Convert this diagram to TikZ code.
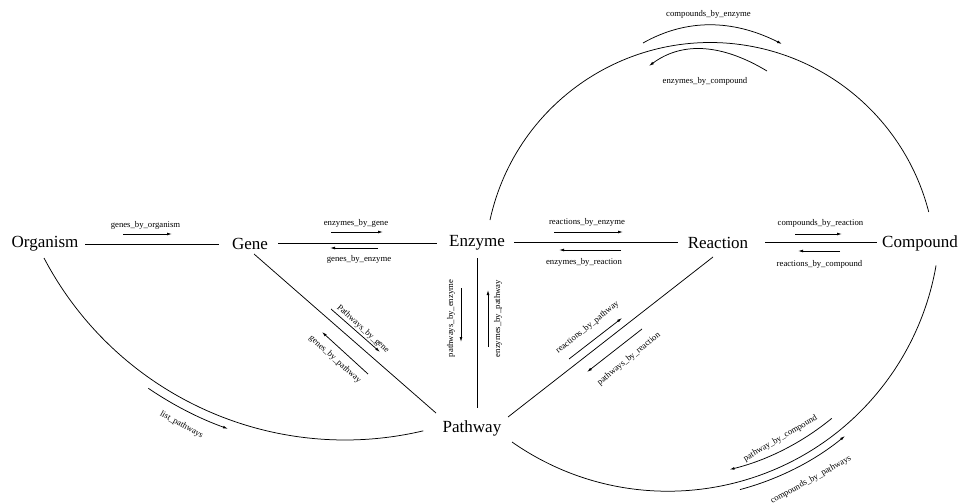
\documentclass[tikz,border=0pt]{standalone}
\usepackage{fontspec}
\setmainfont{Liberation Serif}
\usetikzlibrary{arrows.meta,calc}
\begin{document}
\begin{tikzpicture}[x=1pt,y=-1pt,
  ent/.style={inner sep=0pt, font=\fontsize{17}{20}\selectfont},
  lab/.style={inner sep=0pt, font=\fontsize{8.7}{10}\selectfont},
  link/.style={line width=0.75pt},
  dirarrow/.style={line width=0.75pt, -{Latex[length=5pt,width=2.8pt]}}]
\useasboundingbox (0,0) rectangle (960,503);

% entities
\node[ent] (org)   at (45,244)  {Organism};
\node[ent] (gene)  at (250,244) {Gene};
\node[ent] (enz)   at (477,243) {Enzyme};
\node[ent] (react) at (718,243) {Reaction};
\node[ent] (comp)  at (920,243) {Compound};
\node[ent] (path)  at (472,428) {Pathway};

% connectors
\draw[link] ($(org)+(40,0)$) -- ($(gene)+(-31,0)$);
\draw[link] ($(gene)+(28,-1)$) -- ($(enz)+(-40,0)$);
\draw[link] ($(enz)+(37,-1)$) -- ($(react)+(-40,-1)$);
\draw[link] ($(react)+(47,-1)$) -- ($(comp)+(-43,-1)$);
\draw[link] ($(gene)+(4,10)$) -- ($(path)+(-36,-15)$);
\draw[link] ($(enz)+(0,15)$) -- ($(path)+(5,-20)$);
\draw[link] ($(react)+(-5,14)$) -- ($(path)+(36,-11)$);
\draw[link] ($(org)+(-1,14)$) arc[start angle=152.3, end angle=76.7, radius=340];
\draw[link] ($(enz)+(13,-23)$) arc[start angle=-167.7, end angle=-14.4, radius=225.5];
\draw[link] ($(path)+(40,14)$) arc[start angle=125, end angle=9.8, radius=272];

% Organism - Gene
\draw[dirarrow] (123,234) -- (172,234);
\node[lab] (l1) at (145.5,225) {genes\_by\_organism};

% Gene - Enzyme
\draw[dirarrow] (331,232) -- (383,232);
\node[lab] (l2) at (356,223) {enzymes\_by\_gene};
\draw[dirarrow] (378,248) -- (330,248);
\node[lab] (l3) at (359,259) {genes\_by\_enzyme};

% Enzyme - Reaction
\draw[dirarrow] (554,232) -- (623,232);
\node[lab] (l4) at (587,222) {reactions\_by\_enzyme};
\draw[dirarrow] (621,250) -- (559,250);
\node[lab] (l5) at (584,262) {enzymes\_by\_reaction};

% Reaction - Compound
\draw[dirarrow] (795,234) -- (842,234);
\node[lab] (l6) at (820.5,223) {compounds\_by\_reaction};
\draw[dirarrow] (840,251) -- (798,251);
\node[lab] (l7) at (819.5,264) {reactions\_by\_compound};

% Enzyme - Pathway
\draw[dirarrow] (461,288) -- (461,342);
\node[lab, rotate=90] (l8) at (451,318.5) {pathways\_by\_enzyme};
\draw[dirarrow] (488,347) -- (488,290);
\node[lab, rotate=90] (l9) at (498,318.5) {enzymes\_by\_pathway};

% Gene - Pathway
\draw[dirarrow] (331,309) -- (380,352);
\node[lab, rotate=-42] (l10) at (363,329) {Pathways\_by\_gene};
\draw[dirarrow] (368,374) -- (322,332);
\node[lab, rotate=-42] (l11) at (335,359.5) {genes\_by\_pathway};

% Reaction - Pathway
\draw[dirarrow] (569,359) -- (622,318);
\node[lab, rotate=39] (l12) at (587.5,327.5) {reactions\_by\_pathway};
\draw[dirarrow] (642,329) -- (587,372);
\node[lab, rotate=39] (l13) at (629,359) {pathways\_by\_reaction};

% Organism - Pathway
\draw[dirarrow] (345,100) ++(124.3:349) arc[start angle=124.3, end angle=109.6, radius=349];
\node[lab, rotate=-29] (l14) at (181.5,425) {list\_pathways};

% Enzyme - Compound
\draw[dirarrow] (643,43) .. controls (686,18.7) and (732.3,19) .. (782,44);
\node[lab] (l15) at (708.5,14) {compounds\_by\_enzyme};
\draw[dirarrow] (767,71) .. controls (721,43.3) and (681.7,41.7) .. (649,66);
\node[lab] (l16) at (705,81) {enzymes\_by\_compound};

% Pathway - Compound
\draw[dirarrow] (668,219) ++(50.6:258) arc[start angle=50.6, end angle=76.2, radius=258];
\node[lab, rotate=30] (l17) at (780.5,438.5) {pathway\_by\_compound};
\draw[dirarrow] (668,219) ++(75.1:280) arc[start angle=75.1, end angle=50.8, radius=280];
\node[lab, rotate=28.6] (l18) at (811,480) {compounds\_by\_pathways};
\end{tikzpicture}
\end{document}
